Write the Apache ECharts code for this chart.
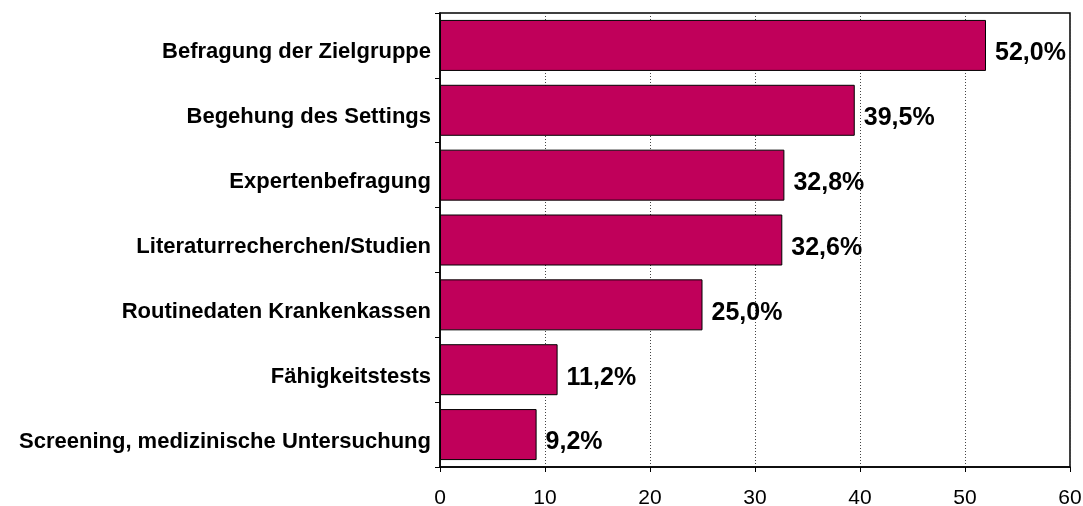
<!DOCTYPE html>
<html><head><meta charset="utf-8">
<script src="https://cdn.jsdelivr.net/npm/echarts@6/dist/echarts.min.js"></script>
<style>html,body{margin:0;padding:0;background:#fff}#c{width:1083px;height:506px}</style>
</head><body><div id="c"></div>
<script>
const categories = ["Befragung der Zielgruppe","Begehung des Settings","Expertenbefragung","Literaturrecherchen/Studien","Routinedaten Krankenkassen","Fähigkeitstests","Screening, medizinische Untersuchung"];
const values = [52.0, 39.5, 32.8, 32.6, 25.0, 11.2, 9.2];
const xTicks = [0, 10, 20, 30, 40, 50, 60];

const chart = echarts.init(document.getElementById('c'), null, {renderer:'canvas'});
chart.setOption({
  animation:false,
  grid:{left:440, right:13, top:13, bottom:39, containLabel:false, outerBoundsMode:'none', show:true, borderColor:'#000', borderWidth:1.5, backgroundColor:'transparent'},
  xAxis:{type:'value', min:0, max:60, interval:10,
    axisLine:{show:true, lineStyle:{color:'#000', width:1.5}},
    axisTick:{show:true, length:5, lineStyle:{color:'#000'}},
    axisLabel:{fontFamily:'Liberation Sans, Arial', fontSize:21, color:'#000', margin:21,
      formatter:v=>xTicks.includes(v)?String(v):''},
    splitLine:{show:true, lineStyle:{color:'#444', type:[1,2], width:1}}
  },
  yAxis:{type:'category', inverse:true, data:categories,
    axisLine:{show:true, lineStyle:{color:'#000', width:1.5}},
    axisTick:{show:true, length:5, inside:false, lineStyle:{color:'#000'}},
    axisLabel:{fontFamily:'Liberation Sans, Arial', fontWeight:'bold', fontSize:22, color:'#000', margin:9, verticalAlign:'top', lineHeight:14}
  },
  series:[{type:'bar', data:values, barWidth:51,
    itemStyle:{color:'#C0005A', borderColor:'#000', borderWidth:1},
    label:{show:true, position:'right', distance:9, offset:[0,8],
      formatter:p=>p.value.toFixed(1).replace('.',',')+'%',
      fontFamily:'Liberation Sans, Arial', fontWeight:'bold', fontSize:25, color:'#000'}
  }]
});
</script></body></html>
